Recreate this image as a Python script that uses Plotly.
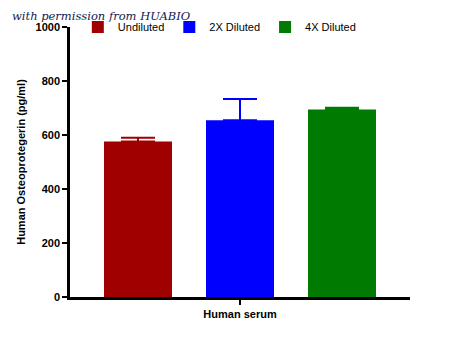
import plotly.graph_objects as go

# Sample groups and measured concentrations (pg/ml)
category = "Human serum"
groups = ["Undiluted", "2X Diluted", "4X Diluted"]
means = [576, 655, 694]
errors = [14, 78, 7]
colors = ["#a00000", "#0000ff", "#007a00"]
offsets = [-0.4, -0.1, 0.2]
y_ticks = [0, 200, 400, 600, 800, 1000]

fig = go.Figure()
for name, m, e, c, off in zip(groups, means, errors, colors, offsets):
    fig.add_trace(go.Bar(
        x=[category], y=[m], name=name,
        width=0.2, offset=off,
        marker=dict(color=c, line=dict(width=0)),
        error_y=dict(type="data", array=[e], arrayminus=[0], symmetric=False,
                     color=c, thickness=2, width=17),
    ))

fig.update_layout(
    width=450, height=337,
    margin=dict(l=70, r=40, t=25, b=40),
    plot_bgcolor="white", paper_bgcolor="white",
    barmode="overlay",
    font=dict(family="Arial, Liberation Sans, sans-serif", color="black"),
    legend=dict(orientation="h", x=0.023, y=1.0, xanchor="left", yanchor="middle",
                font=dict(size=11), bgcolor="rgba(0,0,0,0)",
                itemwidth=30, tracegroupgap=0),
    showlegend=True,
)
fig.update_xaxes(
    range=[-0.5, 0.5], showline=True, linecolor="black", linewidth=2.5,
    ticks="outside", ticklen=5, tickwidth=2, tickcolor="black",
    tickfont=dict(size=11),
    tickvals=[category], ticktext=["<b>Human serum</b>"],
    showgrid=False, zeroline=False,
)
fig.update_yaxes(
    range=[0, 1000], tickvals=y_ticks, ticktext=[f"<b>{v}</b>" for v in y_ticks],
    showline=True, linecolor="black", linewidth=2.5,
    ticks="outside", ticklen=5, tickwidth=2, tickcolor="black",
    tickfont=dict(size=11),
    title=dict(text="<b>Human Osteoprotegerin (pg/ml)</b>", font=dict(size=11), standoff=8),
    showgrid=False, zeroline=False,
)
fig.add_annotation(
    text="<i>with permission from HUABIO</i>", xref="paper", yref="paper",
    x=-0.176, y=1.0, xanchor="left", yanchor="bottom", showarrow=False,
    font=dict(family="DejaVu Serif, Liberation Serif, serif", size=11.5, color="#142050"),
    yshift=2,
)

fig.write_html("out.html")
